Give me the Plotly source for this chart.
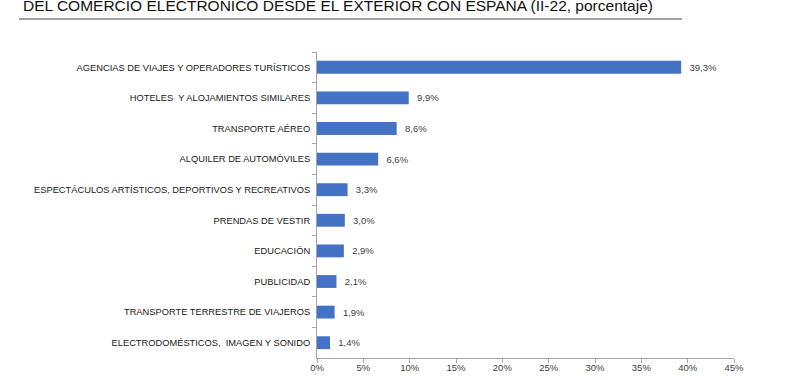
import plotly.graph_objects as go

categories = [
    "AGENCIAS DE VIAJES Y OPERADORES TURÍSTICOS",
    "HOTELES  Y ALOJAMIENTOS SIMILARES",
    "TRANSPORTE AÉREO",
    "ALQUILER DE AUTOMÓVILES",
    "ESPECTÁCULOS ARTÍSTICOS, DEPORTIVOS Y RECREATIVOS",
    "PRENDAS DE VESTIR",
    "EDUCACIÓN",
    "PUBLICIDAD",
    "TRANSPORTE TERRESTRE DE VIAJEROS",
    "ELECTRODOMÉSTICOS,  IMAGEN Y SONIDO",
]
values = [39.3, 9.9, 8.6, 6.6, 3.3, 3.0, 2.9, 2.1, 1.9, 1.4]
value_labels = ["39,3%", "9,9%", "8,6%", "6,6%", "3,3%", "3,0%", "2,9%", "2,1%", "1,9%", "1,4%"]
x_ticks = [0, 5, 10, 15, 20, 25, 30, 35, 40, 45]
x_tick_labels = ["0%", "5%", "10%", "15%", "20%", "25%", "30%", "35%", "40%", "45%"]
title_text = "DEL COMERCIO ELECTRÓNICO DESDE EL EXTERIOR CON ESPAÑA (II-22, porcentaje)"

FONT = "Liberation Sans, Arial, sans-serif"

fig = go.Figure(go.Bar(
    x=values, y=categories, orientation="h",
    marker=dict(color="#4472C4", line=dict(width=0)),
    width=0.42,
    text=["  " + t for t in value_labels],
    textposition="outside",
    textfont=dict(family=FONT, size=9.5, color="#404040"),
    cliponaxis=False,
    hoverinfo="skip",
))

W, H = 800, 380
L, R, T, B = 317, 66, 52, 22
fig.update_layout(
    width=W, height=H,
    margin=dict(l=L, r=R, t=T, b=B, pad=0),
    paper_bgcolor="white", plot_bgcolor="white",
    showlegend=False,
    font=dict(family=FONT, size=9, color="#404040"),
    xaxis=dict(
        automargin=False,
        range=[0, 45], tickmode="array", tickvals=x_ticks, ticktext=x_tick_labels,
        showgrid=False, zeroline=False, showline=True, linecolor="#a6a6a6", linewidth=1,
        ticks="outside", ticklen=4, tickcolor="#a6a6a6",
        tickfont=dict(family=FONT, size=9.5, color="#404040"),
        ticklabelstandoff=-3,
    ),
    yaxis=dict(
        automargin=False,
        autorange="reversed", showgrid=False, zeroline=False,
        showline=True, linecolor="#a6a6a6", linewidth=1,
        ticks="outside", ticklen=4, tickcolor="#a6a6a6", tickson="boundaries",
        tickfont=dict(family=FONT, size=9.3, color="#202020"),
        ticklabelstandoff=4,
    ),
)

pw = W - L - R
ph = H - T - B
fig.add_annotation(
    text=title_text, xref="paper", yref="paper",
    x=(21 - L) / pw, y=(H - B - 5) / ph, xanchor="left", yanchor="middle",
    showarrow=False, font=dict(family=FONT, size=15.5, color="#111111"),
)
fig.add_shape(
    type="line", xref="paper", yref="paper",
    x0=(19 - L) / pw, x1=(682 - L) / pw,
    y0=(H - B - 19) / ph, y1=(H - B - 19) / ph,
    line=dict(color="#a0a0a0", width=2),
)

fig.write_html("out.html", config={"displayModeBar": False},
               post_script="document.body.style.margin='0';")
